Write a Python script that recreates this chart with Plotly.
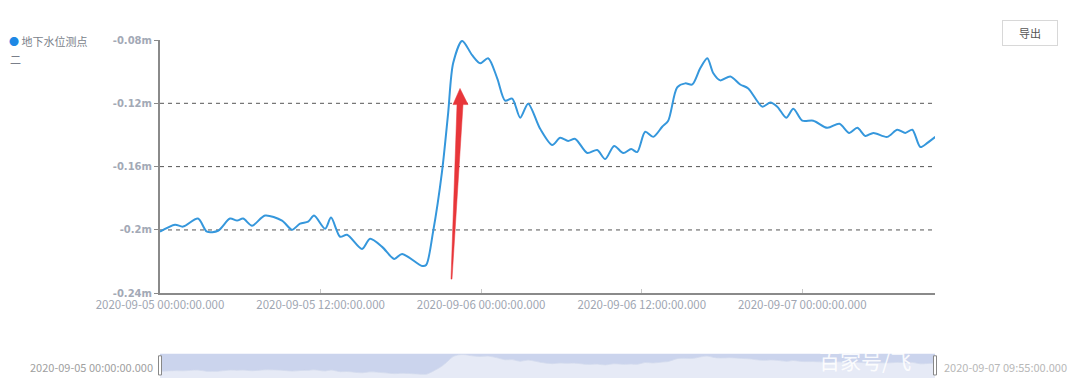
import pandas as pd
import plotly.graph_objects as go

# ---- data ----
start_time = "2020-09-05 00:00:00"
end_time = "2020-09-07 09:55:00"
hours = [0, 1.12, 1.72, 2.84, 3.51, 4.34, 5.23, 5.76, 6.21, 6.88, 7.85, 9.12, 9.87, 10.47,
         11.07, 11.51, 12.34, 12.78, 13.46, 13.98, 15.10, 15.70, 16.60, 17.50, 18.09, 19.59,
         19.89, 20.41, 21.08, 21.53, 21.91, 22.58, 23.33, 23.93, 24.52, 25.20, 25.79, 26.32,
         26.92, 27.51, 28.41, 29.31, 29.91, 30.50, 31.03, 31.93, 32.67, 33.27, 33.94, 34.62,
         35.21, 35.66, 36.26, 36.86, 37.53, 37.98, 38.65, 39.25, 39.78, 40.37, 40.90, 41.35,
         41.87, 42.62, 43.36, 43.96, 45.01, 45.61, 46.13, 46.80, 47.33, 48.00, 48.82, 49.87,
         50.77, 51.51, 52.11, 52.71, 53.31, 54.35, 55.10, 55.70, 56.22, 56.82, 57.35, 57.94]
levels = [-0.2011, -0.1967, -0.1979, -0.1928, -0.2011, -0.2005, -0.1928, -0.1941, -0.1928,
          -0.1973, -0.1909, -0.1941, -0.1999, -0.1960, -0.1948, -0.1909, -0.1992, -0.1922,
          -0.2043, -0.2030, -0.2120, -0.2056, -0.2107, -0.2183, -0.2152, -0.2228, -0.2222,
          -0.2011, -0.1629, -0.1265, -0.0946, -0.0806, -0.0896, -0.0947, -0.0915, -0.1042,
          -0.1183, -0.1170, -0.1291, -0.1202, -0.1361, -0.1463, -0.1418, -0.1438, -0.1425,
          -0.1514, -0.1495, -0.1552, -0.1469, -0.1514, -0.1489, -0.1508, -0.1380, -0.1412,
          -0.1348, -0.1310, -0.1100, -0.1074, -0.1081, -0.0979, -0.0915, -0.1010, -0.1055,
          -0.1030, -0.1081, -0.1106, -0.1221, -0.1195, -0.1221, -0.1291, -0.1234, -0.1310,
          -0.1310, -0.1355, -0.1329, -0.1387, -0.1355, -0.1406, -0.1387, -0.1412, -0.1367,
          -0.1387, -0.1367, -0.1476, -0.1450, -0.1412]
y_ticks = [-0.24, -0.2, -0.16, -0.12, -0.08]
y_tick_text = ["-0.24m", "-0.2m", "-0.16m", "-0.12m", "-0.08m"]
grid_levels = [-0.2, -0.16, -0.12]
series_name = "地下水位测点"

times = pd.to_datetime(start_time) + pd.to_timedelta(hours, unit="h")

# page body has an 8px default margin; compensate
OFF = 8
SW, SH = 1080, 387                     # screen size
L_S, R_S, T_S, B_S = 160, 935, 40, 375  # screen pixel bounds of the plot region (incl. navigator)
W, H = SW - OFF, SH - OFF
ML, MT = L_S - OFF, T_S - OFF
MR, MB = SW - R_S, SH - B_S - OFF
PW, PH = R_S - L_S, B_S - T_S


def px(x):
    return (x - L_S) / PW


def py(y):
    return (B_S - y) / PH


LINE_BLUE = "#3597dc"
GRAY = "#9aa0ad"
FONT = "Noto Sans CJK SC"

fig = go.Figure()
fig.add_trace(go.Scatter(x=times, y=levels, mode="lines", line=dict(color=LINE_BLUE, width=2, shape="spline", smoothing=0.8),
                         name=series_name, showlegend=False, xaxis="x", yaxis="y"))

# mini navigator
mini_base = -0.25
fig.add_trace(go.Scatter(x=times, y=[mini_base] * len(times), mode="lines", line=dict(width=0),
                         showlegend=False, xaxis="x2", yaxis="y2", hoverinfo="skip"))
fig.add_trace(go.Scatter(x=times, y=levels, mode="lines", line=dict(width=0.8, color="#d3daee", shape="spline"),
                         fill="tonexty", fillcolor="#e6eaf6", showlegend=False, xaxis="x2", yaxis="y2", hoverinfo="skip"))

shapes = []
for g in grid_levels:
    shapes.append(dict(type="line", xref="x domain", yref="y", x0=0, x1=1, y0=g, y1=g,
                       line=dict(color="#555555", width=1, dash="4px,4px"), layer="below"))
# navigator background
shapes.append(dict(type="rect", xref="paper", yref="paper", x0=0, x1=1, y0=py(375), y1=py(351),
                   fillcolor="#cbd4ed", line=dict(width=0), layer="below"))
for hx in (160, 935):
    shapes.append(dict(type="rect", xref="paper", yref="paper", x0=px(hx - 1.5), x1=px(hx + 1.5),
                       y0=py(372), y1=py(353), fillcolor="#ffffff", line=dict(color="#888", width=1)))
# red arrow (annotation graphic)
arrow_pts = [(451, 277), (457, 104), (453, 104), (460, 88), (468, 104), (463, 104), (452, 277)]
path = "M " + " L ".join(f"{px(x):.5f},{py(y):.5f}" for x, y in arrow_pts) + " Z"
shapes.append(dict(type="path", xref="paper", yref="paper", path=path, fillcolor="#e8363a",
                   line=dict(color="#e8363a", width=0.5)))

annotations = [
    dict(xref="paper", yref="paper", x=px(7), y=py(41), xanchor="left", yanchor="middle", showarrow=False,
         text=f"<span style='color:#1e88e5;font-size:10px'>●</span> {series_name}",
         font=dict(family=FONT, size=11, color="#7a7f8a")),
    dict(xref="paper", yref="paper", x=px(8), y=py(59), xanchor="left", yanchor="middle", showarrow=False,
         text="二", font=dict(family=FONT, size=11, color="#7a7f8a")),
    dict(xref="paper", yref="paper", x=px(1030), y=py(33.5), xanchor="center", yanchor="middle", showarrow=False,
         text="导出", font=dict(family=FONT, size=11, color="#555"), bordercolor="#d8d8d8", borderwidth=1,
         borderpad=4, width=46, height=16, bgcolor="#ffffff"),
    dict(xref="paper", yref="paper", x=px(155), y=py(364), xanchor="right", yanchor="middle", showarrow=False,
         text="2020-09-05 00:00:00.000", font=dict(family=FONT, size=11, color="#a0a0a0")),
    dict(xref="paper", yref="paper", x=px(942), y=py(364), xanchor="left", yanchor="middle", showarrow=False,
         text="2020-09-07 09:55:00.000", font=dict(family=FONT, size=11, color="#b8b8b8")),
    dict(xref="paper", yref="paper", x=px(865), y=py(357), xanchor="center", yanchor="middle", showarrow=False,
         text="百家号/飞", font=dict(family=FONT, size=21, color="rgba(255,255,255,0.9)")),
]

fig.update_layout(
    width=W, height=H,
    margin=dict(l=ML, r=MR, t=MT, b=MB),
    paper_bgcolor="#ffffff", plot_bgcolor="#ffffff",
    showlegend=False,
    font=dict(family=FONT, size=11, color=GRAY),
    xaxis=dict(range=[start_time, end_time], type="date", dtick=43200000, tick0=start_time,
               tickformat="%Y-%m-%d %H:%M:%S.%L", showgrid=False, zeroline=False,
               showline=True, linecolor="#8a8a8a", linewidth=1.5, ticks="inside", ticklen=4,
               tickcolor="#c8c8c8", tickfont=dict(family=FONT, size=11.5, color="#a0a6b2"),
               anchor="y", domain=[0, 1]),
    yaxis=dict(range=[-0.24, -0.08], tickvals=y_ticks, ticktext=y_tick_text, showgrid=False,
               zeroline=False, showline=True, linecolor="#8a8a8a", linewidth=2, ticks="outside",
               ticklen=4, tickcolor="#8a8a8a",
               tickfont=dict(family="DejaVu Sans", size=10, color="#a3a9b6", weight="bold"),
               domain=[py(291), 1], anchor="x"),
    xaxis2=dict(range=[start_time, end_time], type="date", visible=False, anchor="y2", domain=[0, 1]),
    yaxis2=dict(range=[mini_base, -0.075], visible=False, domain=[py(375), py(351)], anchor="x2"),
    shapes=shapes,
    annotations=annotations,
)

fig.write_html("out.html")
